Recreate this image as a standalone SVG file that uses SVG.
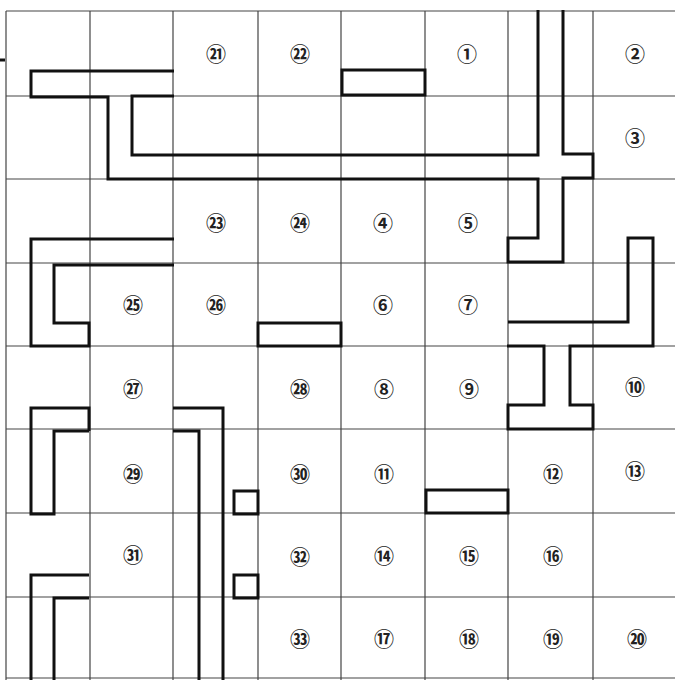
<svg xmlns="http://www.w3.org/2000/svg" width="675" height="680" viewBox="0 0 675 680">
<style>
.grid{stroke:#444;stroke-width:1.2;fill:none}
.wall{stroke:#111;stroke-width:3;fill:none;stroke-linejoin:miter;stroke-linecap:butt}
.lbl{font-family:"Noto Sans CJK JP","DejaVu Sans",sans-serif;font-size:20px;font-weight:700;fill:#222;text-anchor:middle;dominant-baseline:central}
</style>
<rect width="675" height="680" fill="#fff"/>
<g id="grid" class="grid">
<line x1="6" y1="11" x2="675" y2="11"/>
<line x1="6" y1="96" x2="675" y2="96"/>
<line x1="6" y1="179" x2="675" y2="179"/>
<line x1="6" y1="263" x2="675" y2="263"/>
<line x1="6" y1="346" x2="675" y2="346"/>
<line x1="6" y1="429" x2="675" y2="429"/>
<line x1="6" y1="513" x2="675" y2="513"/>
<line x1="6" y1="597" x2="675" y2="597"/>
<line x1="6" y1="678" x2="675" y2="678"/>
<line x1="6" y1="11" x2="6" y2="680"/>
<line x1="90" y1="11" x2="90" y2="680"/>
<line x1="173" y1="11" x2="173" y2="680"/>
<line x1="258" y1="11" x2="258" y2="680"/>
<line x1="341" y1="11" x2="341" y2="680"/>
<line x1="425" y1="11" x2="425" y2="680"/>
<line x1="508" y1="11" x2="508" y2="680"/>
<line x1="593" y1="11" x2="593" y2="680"/>
</g>
<g id="walls" class="wall">
<line x1="0" y1="60" x2="5" y2="60"/>
<polyline points="174,71 31,71 31,97 108,97 108,179 538,179 538,238 508,238 508,262 563,262 563,178 593,178 593,154 563,154 563,10"/>
<polyline points="174,96 132,96 132,155 538,155 538,10"/>
<rect x="342" y="70" width="83" height="25"/>
<polyline points="508,322 628,322 628,238 653,238 653,346 570,346 570,405 593,405 593,429 508,429 508,405 544,405 544,346 507,346"/>
<polyline points="174,239 31,239 31,346 89,346 89,323 54,323 54,265 174,265"/>
<rect x="258" y="323" width="83" height="23"/>
<polyline points="89,431 54,431 54,514 31,514 31,408 89,408 89,431"/>
<polyline points="89,575 31,575 31,680"/>
<polyline points="89,598 54,598 54,680"/>
<polyline points="173,408 223,408 223,680"/>
<polyline points="173,431 199,431 199,680"/>
<rect x="234" y="491" width="24" height="23"/>
<rect x="234" y="575" width="24" height="23"/>
<rect x="426" y="490" width="82" height="23"/>
</g>
<g id="labels" class="lbl">
<text x="216" y="53">㉑</text>
<text x="300" y="53">㉒</text>
<text x="467" y="53">①</text>
<text x="635" y="53">②</text>
<text x="635" y="137">③</text>
<text x="216" y="222">㉓</text>
<text x="300" y="222">㉔</text>
<text x="383" y="222">④</text>
<text x="468" y="222">⑤</text>
<text x="133" y="304">㉕</text>
<text x="216" y="304">㉖</text>
<text x="383" y="304">⑥</text>
<text x="468" y="304">⑦</text>
<text x="133" y="388">㉗</text>
<text x="300" y="388">㉘</text>
<text x="384" y="388">⑧</text>
<text x="469" y="388">⑨</text>
<text x="635" y="386">⑩</text>
<text x="133" y="473">㉙</text>
<text x="300" y="473">㉚</text>
<text x="384" y="473">⑪</text>
<text x="553" y="473">⑫</text>
<text x="635" y="470">⑬</text>
<text x="133" y="554">㉛</text>
<text x="300" y="556">㉜</text>
<text x="384" y="555">⑭</text>
<text x="469" y="555">⑮</text>
<text x="553" y="555">⑯</text>
<text x="300" y="638">㉝</text>
<text x="384" y="638">⑰</text>
<text x="469" y="638">⑱</text>
<text x="553" y="638">⑲</text>
<text x="637" y="638">⑳</text>
</g>
</svg>
